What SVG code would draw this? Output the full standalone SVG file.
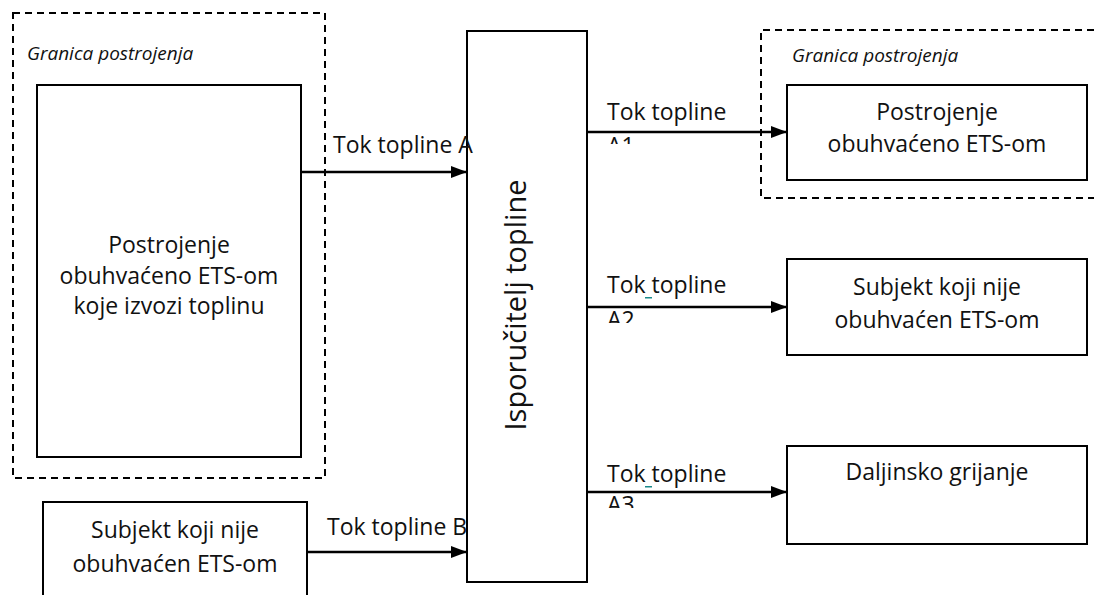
<svg xmlns="http://www.w3.org/2000/svg" width="1094" height="595" viewBox="0 0 1094 595">
<style>
.box{fill:#fff;stroke:#000;stroke-width:2}
.dash{fill:none;stroke:#000;stroke-width:2;stroke-dasharray:7,5}
.t{font-family:"Open Sans","Liberation Sans",sans-serif;font-size:23px;fill:#111}
.c{text-anchor:middle}
.i{font-family:"Open Sans","Liberation Sans",sans-serif;font-size:19px;font-style:italic;fill:#111}
.ln{stroke:#000;stroke-width:2.5;fill:none}
</style>
<defs>
<marker id="arr" viewBox="0 0 16 12" refX="16" refY="6" markerWidth="16" markerHeight="12" markerUnits="userSpaceOnUse" orient="auto">
<path d="M0,0 L16,6 L0,12 z" fill="#000"/>
</marker>
<clipPath id="c1"><rect x="590" y="134" width="150" height="10"/></clipPath>
<clipPath id="c2"><rect x="590" y="309" width="150" height="14"/></clipPath>
<clipPath id="c3"><rect x="590" y="494" width="150" height="14"/></clipPath>
</defs>

<g id="boundary-left">
<rect class="dash" x="13" y="13" width="312" height="465"/>
<text class="i" x="27" y="60">Granica postrojenja</text>
</g>
<g id="boundary-right">
<path class="dash" d="M1094,30 H761 V198 H1094"/>
<text class="i" x="792" y="62">Granica postrojenja</text>
</g>

<g id="node-exporter">
<rect class="box" x="37" y="85" width="264" height="372"/>
<text class="t c" x="169" y="253">Postrojenje</text>
<text class="t c" x="169" y="284">obuhvaćeno ETS-om</text>
<text class="t c" x="169" y="314">koje izvozi toplinu</text>
</g>

<g id="node-subjekt-left">
<rect class="box" x="43" y="502" width="264" height="110"/>
<text class="t c" x="175" y="538">Subjekt koji nije</text>
<text class="t c" x="175" y="572">obuhvaćen ETS-om</text>
</g>

<g id="node-isporucitelj">
<rect class="box" x="467" y="31" width="120" height="551"/>
<text class="t c" transform="translate(526,305) rotate(-90)" x="0" y="0" style="font-size:29px">Isporučitelj topline</text>
</g>

<g id="node-postrojenje-right">
<rect class="box" x="787" y="85" width="300" height="95"/>
<text class="t c" x="937" y="120">Postrojenje</text>
<text class="t c" x="937" y="152">obuhvaćeno ETS-om</text>
</g>

<g id="node-subjekt-right">
<rect class="box" x="787" y="259" width="300" height="96"/>
<text class="t c" x="937" y="295">Subjekt koji nije</text>
<text class="t c" x="937" y="328">obuhvaćen ETS-om</text>
</g>

<g id="node-daljinsko">
<rect class="box" x="787" y="446" width="300" height="98"/>
<text class="t c" x="937" y="480">Daljinsko grijanje</text>
</g>

<g id="connectors">
<line class="ln" x1="301" y1="172" x2="467" y2="172" marker-end="url(#arr)"/>
<line class="ln" x1="307" y1="552" x2="467" y2="552" marker-end="url(#arr)"/>
<line class="ln" x1="587" y1="132" x2="787" y2="132" marker-end="url(#arr)"/>
<line class="ln" x1="587" y1="307" x2="787" y2="307" marker-end="url(#arr)"/>
<line class="ln" x1="587" y1="492" x2="787" y2="492" marker-end="url(#arr)"/>
</g>

<g id="labels">
<text class="t" x="333" y="153">Tok topline A</text>
<text class="t" x="327" y="535">Tok topline B</text>
<text class="t" x="607" y="120">Tok topline</text>
<text class="t" x="607" y="154" clip-path="url(#c1)">A1</text>
<text class="t" x="607" y="293">Tok topline</text>
<rect x="645" y="297" width="7" height="1.5" fill="#1a8a8a"/>
<text class="t" x="607" y="328" clip-path="url(#c2)">A2</text>
<text class="t" x="607" y="482">Tok topline</text>
<rect x="645" y="486" width="7" height="1.5" fill="#1a8a8a"/>
<text class="t" x="607" y="513" clip-path="url(#c3)">A3</text>
</g>
</svg>
